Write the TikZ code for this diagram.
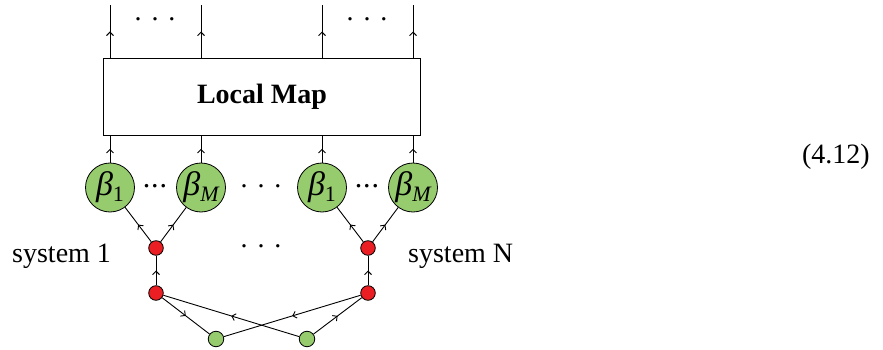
\documentclass[tikz,border=0pt]{standalone}
\usepackage{fontspec}
\setmainfont{Liberation Serif}
\usetikzlibrary{arrows.meta,decorations.markings}
\definecolor{gcol}{RGB}{150,204,110}
\definecolor{rcol}{RGB}{235,30,35}
\tikzset{
  wire/.style={line width=0.9pt, postaction={decorate}, decoration={markings, mark=at position 0.5 with {\arrow{Straight Barb[length=3.5pt,width=7pt,line width=0.9pt]}}}},
  bigc/.style={circle, draw, line width=0.8pt, fill=gcol, minimum size=49pt, inner sep=0pt},
  redc/.style={circle, draw, line width=0.8pt, fill=rcol, minimum size=14.6pt, inner sep=0pt},
  grnc/.style={circle, draw, line width=0.8pt, fill=gcol, minimum size=15.5pt, inner sep=0pt},
  txt/.style={font=\fontsize{28}{32}\selectfont, inner sep=0pt},
}
\newcommand{\betasub}[1]{\fontsize{34}{36}\selectfont\itshape β\raisebox{-0.17em}{\fontsize{22}{24}\selectfont #1}}
\begin{document}
\begin{tikzpicture}[x=1pt,y=-1pt]
\useasboundingbox (0,0) rectangle (883,350);
% box
\node[draw, line width=0.9pt, minimum width=317pt, minimum height=77pt, inner sep=0pt, anchor=north west, font=\fontsize{28}{32}\selectfont\bfseries] (box) at (103,58) {Local Map};
% top ends
\coordinate (t1) at (110,5);
\coordinate (t2) at (201,5);
\coordinate (t3) at (322,5);
\coordinate (t4) at (413,5);
\coordinate (b1) at (110,58);
\coordinate (b2) at (201,58);
\coordinate (b3) at (322,58);
\coordinate (b4) at (413,58);
\coordinate (c1) at (110,135);
\coordinate (c2) at (201,135);
\coordinate (c3) at (322,135);
\coordinate (c4) at (413,135);
\node[txt] (d1) at (155,19) {.\hspace{0.35em}.\hspace{0.35em}.};
\node[txt] (d2) at (367,19) {.\hspace{0.35em}.\hspace{0.35em}.};
% beta nodes
\node[bigc] (p1) at (110,187.5) {\betasub{\upshape 1}};
\node[bigc] (p2) at (201,187.5) {\betasub{M}};
\node[bigc] (p3) at (322,187.5) {\betasub{\upshape 1}};
\node[bigc] (p4) at (413,187.5) {\betasub{M}};
\node[txt, font=\fontsize{30}{32}\selectfont] (e1) at (155,186) {.\kern1pt.\kern1pt.};
\node[txt, font=\fontsize{30}{32}\selectfont] (e2) at (367,186) {.\kern1pt.\kern1pt.};
\node[txt] (e3) at (261,186) {.\hspace{0.35em}.\hspace{0.35em}.};
% red and green
\node[redc] (r1) at (156,248) {};
\node[redc] (r2) at (368,248) {};
\node[redc] (s1) at (156,293) {};
\node[redc] (s2) at (368,293) {};
\node[grnc] (g1) at (216,339) {};
\node[grnc] (g2) at (307,339) {};
\node[txt] (e4) at (261,246) {.\hspace{0.35em}.\hspace{0.35em}.};
\node[txt, anchor=base west] (sys1) at (12,262) {system 1};
\node[txt, anchor=base west] (sysN) at (408,262) {system N};
\node[txt, anchor=base east] (eq) at (870,163) {(4.12)};
% wires
\foreach \i in {1,2,3,4} {
  \draw[wire] (b\i) -- (t\i);
  \draw[wire] (p\i) -- (c\i);
}
\draw[wire] (r1) -- (p1);
\draw[wire] (r1) -- (p2);
\draw[wire] (r2) -- (p3);
\draw[wire] (r2) -- (p4);
\draw[wire] (s1) -- (r1);
\draw[wire] (s2) -- (r2);
\draw[wire] (s1) -- (g1);
\draw[wire] (g2) -- (s1);
\draw[wire] (s2) -- (g1);
\draw[wire] (g2) -- (s2);
\end{tikzpicture}
\end{document}
